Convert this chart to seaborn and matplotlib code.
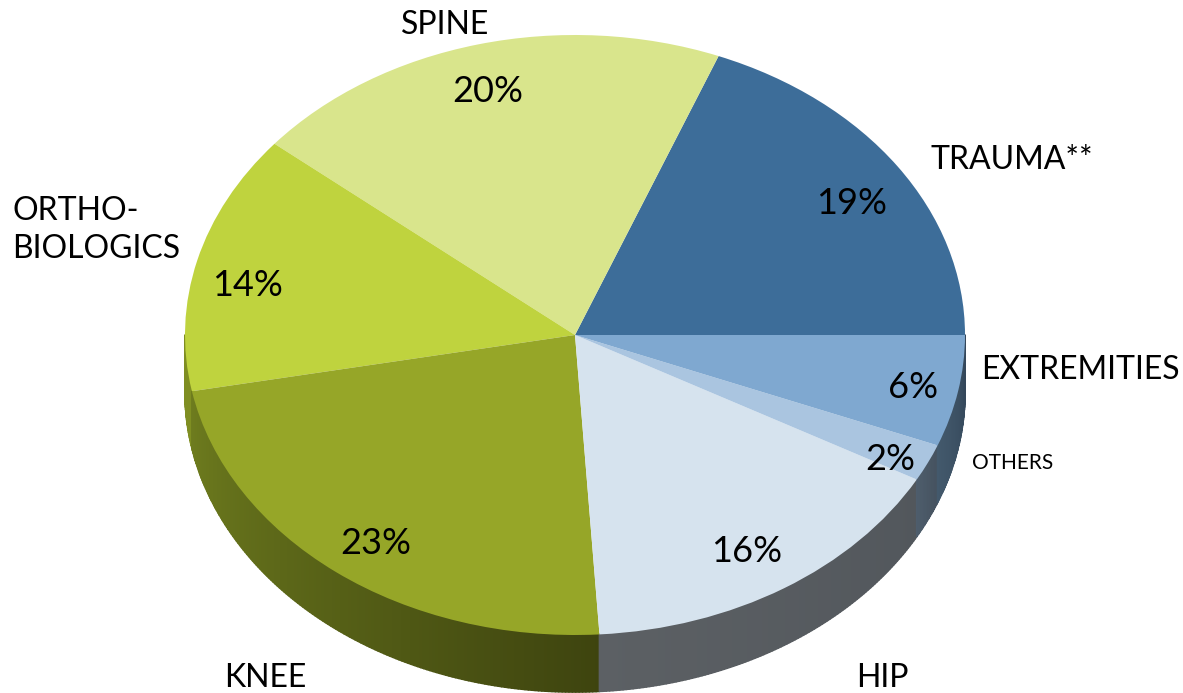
import numpy as np
import matplotlib
matplotlib.use('Agg')
import matplotlib.pyplot as plt
import seaborn as sns
from matplotlib.colors import to_rgb
from matplotlib.collections import PolyCollection

sns.set_style('white')
plt.rcParams['font.family'] = ['Lato', 'DejaVu Sans']

# Data (counter-clockwise from 3 o'clock)
categories = ['TRAUMA**', 'SPINE', 'ORTHO-\nBIOLOGICS', 'KNEE', 'HIP', 'OTHERS', 'EXTREMITIES']
shares = [19, 20, 14, 23, 16, 2, 6]
pct_labels = [f'{s}%' for s in shares]

top_colors = ['#3D6D99', '#D9E58C', '#BFD33E', '#96A628', '#D6E3EE', '#AAC5E0', '#7FA8D0']
side_light = ['#2C4A66', '#9AA45E', '#7F8E22', '#6E7C1E', '#5C6064', '#4E5D6C', '#43596C']
side_dark = ['#2C4A66', '#9AA45E', '#7F8E22', '#3E440F', '#52575C', '#45525F', '#34475A']

# layout in pixels: ellipse centre, radii, thickness
W, H = 1183, 693
cx, cy, rx, ry, depth_px = 575, 335, 390, 300, 57
depth = depth_px / ry


def px(x, y):
    return (x - cx) / rx, (cy - y) / ry


label_pos = [(1012, 160), (445, 25), (12, 230), (265, 678), (882, 678), (1013, 463), (1080, 370)]
pct_pos = [(852, 203), (488, 92), (247, 285), (376, 543), (747, 552), (890, 460), (913, 388)]

fig = plt.figure(figsize=(W / 100, H / 100), dpi=100)
ax = fig.add_axes([0, 0, 1, 1])

# side wall of the front half
edges = np.concatenate([[0], np.cumsum(shares)]) / sum(shares) * 360
polys, cols = [], []
for i in range(len(shares)):
    a0, a1 = max(edges[i], 180), min(edges[i + 1], 360)
    if a1 <= a0:
        continue
    steps = np.linspace(a0, a1, int((a1 - a0) * 2) + 2)
    c0, c1 = np.array(to_rgb(side_light[i])), np.array(to_rgb(side_dark[i]))
    for j in range(len(steps) - 1):
        t0, t1 = np.radians(steps[j]), np.radians(steps[j + 1])
        f = (steps[j] - a0) / (a1 - a0)
        polys.append([(np.cos(t0), np.sin(t0)), (np.cos(t1), np.sin(t1)),
                      (np.cos(t1), np.sin(t1) - depth), (np.cos(t0), np.sin(t0) - depth)])
        cols.append(c0 + (c1 - c0) * f)
ax.add_collection(PolyCollection(polys, facecolors=cols, edgecolors=cols,
                                 linewidths=1.2, zorder=0.5))

ax.pie(shares, colors=top_colors, startangle=0, counterclock=True, radius=1,
       wedgeprops=dict(linewidth=0))

ax.set_aspect('auto')
ax.set_xlim(-cx / rx, (W - cx) / rx)
ax.set_ylim((cy - H) / ry, cy / ry)
ax.axis('off')

for i, name in enumerate(categories):
    x, y = px(*label_pos[i])
    size = 15 if name == 'OTHERS' else 23
    ha = 'left' if '\n' in name else 'center'
    ax.text(x, y, name, fontsize=size, ha=ha, va='center', linespacing=1.3, color='black')
    x, y = px(*pct_pos[i])
    ax.text(x, y, pct_labels[i], fontsize=26, ha='center', va='center', color='black')

fig.savefig('out.png', dpi=100)
